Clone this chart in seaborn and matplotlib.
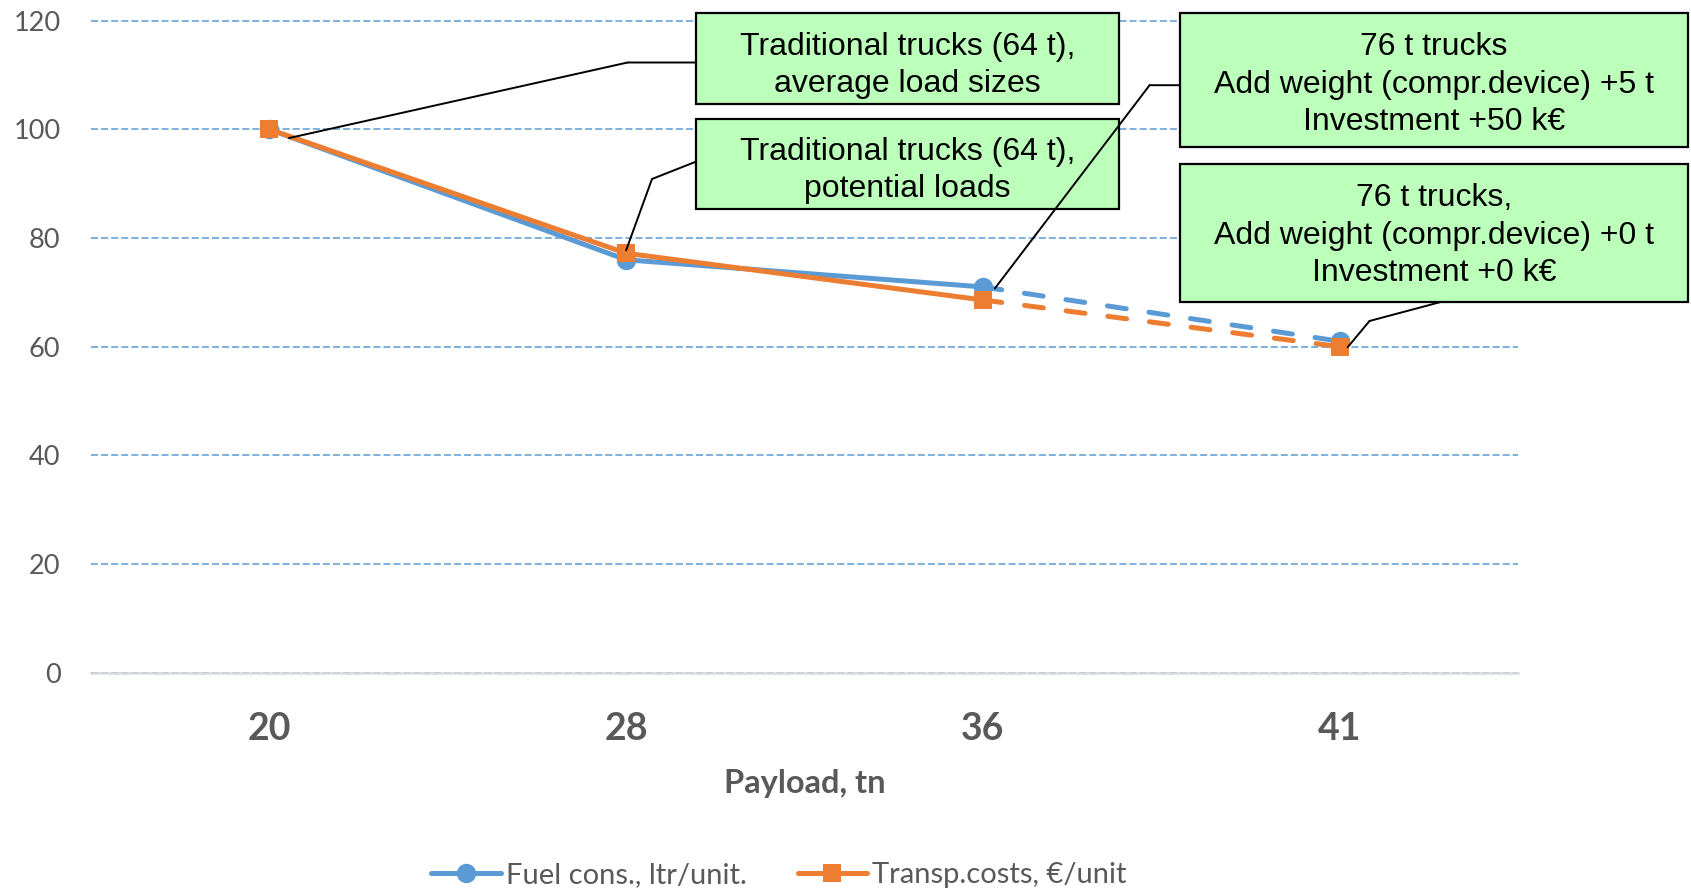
import matplotlib
matplotlib.use("Agg")
import matplotlib.pyplot as plt
from matplotlib.patches import Rectangle
from matplotlib.lines import Line2D
from matplotlib.transforms import offset_copy
import seaborn as sns
import pandas as pd

# ---------------- data ----------------
payload = ["20", "28", "36", "41"]
fuel = [100.0, 76.0, 71.0, 61.0]
transp = [100.0, 77.2, 68.6, 60.0]
series_names = ["Fuel cons., ltr/unit.", "Transp.costs, €/unit"]
y_ticks = [0, 20, 40, 60, 80, 100, 120]
x_label = "Payload, tn"
box_texts = [
    "Traditional trucks (64 t),\naverage load sizes",
    "Traditional trucks (64 t),\npotential loads",
    "76 t trucks\nAdd weight (compr.device) +5 t\nInvestment +50 k€",
    "76 t trucks,\nAdd weight (compr.device) +0 t\nInvestment +0 k€",
]
# index of the data point each box refers to, and which series
box_targets = [(0, 1), (1, 1), (2, 0), (3, 0)]

# ---------------- style ----------------
W, H = 1691, 890
BLUE = "#5B9BD5"
ORANGE = "#ED7D31"
GRAY = "#595959"
BOX_FILL = "#BBFFBB"

sns.set_theme(style="white")
plt.rcParams["font.family"] = ["Lato", "DejaVu Sans"]

fig = plt.figure(figsize=(W / 100, H / 100), dpi=100)
ax_left, ax_right, ax_top, ax_bottom = 91, 1518, 20.7, 672.7
ax = fig.add_axes([ax_left / W, 1 - ax_bottom / H,
                   (ax_right - ax_left) / W, (ax_bottom - ax_top) / H])

df_solid = pd.DataFrame({"Payload": payload[:3], "fuel": fuel[:3], "transp": transp[:3]})
df_dash = pd.DataFrame({"Payload": payload[2:], "fuel": fuel[2:], "transp": transp[2:]})

lw = 3.6
ms_circle = 14
ms_square = 13
dash = (0, (3.8, 4.6))

# blue series
sns.lineplot(data=df_solid, x="Payload", y="fuel", color=BLUE, lw=lw, marker="o",
             markersize=ms_circle, markeredgewidth=0, sort=False, ax=ax, zorder=3)
sns.lineplot(data=df_dash, x="Payload", y="fuel", color=BLUE, lw=lw, linestyle=dash,
             dash_capstyle="round", marker="o", markevery=[1], markersize=ms_circle,
             markeredgewidth=0, sort=False, ax=ax, zorder=3)
# orange series
sns.lineplot(data=df_solid, x="Payload", y="transp", color=ORANGE, lw=lw, marker="s",
             markersize=ms_square, markeredgewidth=0, sort=False, ax=ax, zorder=4)
sns.lineplot(data=df_dash, x="Payload", y="transp", color=ORANGE, lw=lw, linestyle=dash,
             dash_capstyle="round", marker="s", markevery=[1], markersize=ms_square,
             markeredgewidth=0, sort=False, ax=ax, zorder=4)

ax.set_xlim(-0.5, 3.5)
ax.set_ylim(0, 120)
ax.set_yticks(y_ticks)
ax.set_yticklabels([str(v) for v in y_ticks])

# grid
ax.yaxis.grid(True, color=BLUE, linestyle=(0, (4.6, 2.0)), linewidth=1.1)
ax.xaxis.grid(False)
ax.set_axisbelow(True)
for gl in ax.get_ygridlines():
    gl.set_clip_on(False)

for s in ["left", "right", "top"]:
    ax.spines[s].set_visible(False)
ax.spines["bottom"].set_color("#D9D9D9")
ax.spines["bottom"].set_linewidth(1.8)
ax.spines["bottom"].set_zorder(2)

ax.tick_params(axis="y", length=0, pad=22, labelsize=19.5, labelcolor=GRAY)
ax.tick_params(axis="x", length=0, pad=28.5, labelsize=27, labelcolor=GRAY)
for t in ax.get_xticklabels():
    t.set_fontweight("bold")

ax.set_xlabel(x_label, fontsize=23.5, fontweight="bold", color=GRAY, labelpad=16)
ax.set_ylabel("")

# ---------------- legend ----------------
handles = [
    Line2D([], [], color=BLUE, lw=lw, marker="o", markersize=ms_circle, markeredgewidth=0),
    Line2D([], [], color=ORANGE, lw=lw, marker="s", markersize=ms_square, markeredgewidth=0),
]
leg = fig.legend(handles, series_names, loc="center", bbox_to_anchor=(779 / W, 1 - 875 / H),
                 ncol=2, frameon=False, fontsize=21, handlelength=2.37, handletextpad=0.18,
                 columnspacing=1.75, labelcolor=GRAY)

# ---------------- annotation boxes ----------------
def fx(px):
    return px / W


def fy(py):
    return 1 - py / H


# box extents in pixels: (left, top, right, bottom)
boxes = [
    (695.6, 13.0, 1119.4, 103.5),
    (695.6, 118.6, 1119.4, 209.2),
    (1179.8, 13.0, 1687.7, 146.7),
    (1179.8, 164.0, 1687.7, 302.0),
]
text_shift = [7.5, 6.5, 4.9, 2.7]
# leader kink point and attachment point on box (pixels)
kinks = [
    ((627.6, 62.5), (695.6, 62.5)),
    ((652.0, 179.0), (695.6, 161.8)),
    ((1149.6, 85.2), (1179.8, 85.2)),
    ((1369.5, 321.0), (1440.7, 302.0)),
]
# leader start offset from the data point, in pixels (x right, y up)
start_offsets = [(19.6, -8.7), (0.0, 3.0), (12.0, -1.5), (8.0, -6.0)]

for (l, t, r, b), txt, sh in zip(boxes, box_texts, text_shift):
    rect = Rectangle((fx(l), fy(b)), fx(r) - fx(l), fy(t) - fy(b), transform=fig.transFigure,
                     facecolor=BOX_FILL, edgecolor="black", linewidth=1.6, zorder=5,
                     clip_on=False)
    ax.add_patch(rect)
    ax.text(fx((l + r) / 2), fy((t + b) / 2 + sh), txt, ha="center", va="center",
            fontsize=23, family=["Liberation Sans", "DejaVu Sans"], color="black",
            linespacing=1.32, zorder=6, transform=fig.transFigure, clip_on=False)

ax.set_xlim(-0.5, 3.5)
ax.set_ylim(0, 120)

for (idx, ser), (kink, attach), (dx, dy) in zip(box_targets, kinks, start_offsets):
    vals = fuel if ser == 0 else transp
    start_tr = offset_copy(ax.transData, fig=fig, x=dx, y=dy, units="dots")
    ax.annotate("", xy=(idx, vals[idx]), xycoords=start_tr,
                xytext=(fx(kink[0]), fy(kink[1])), textcoords="figure fraction",
                arrowprops=dict(arrowstyle="-", color="black", lw=1.4, shrinkA=0, shrinkB=0),
                zorder=7, annotation_clip=False)
    ax.annotate("", xy=(fx(attach[0]), fy(attach[1])), xycoords="figure fraction",
                xytext=(fx(kink[0]), fy(kink[1])), textcoords="figure fraction",
                arrowprops=dict(arrowstyle="-", color="black", lw=1.4, shrinkA=0, shrinkB=0),
                zorder=7, annotation_clip=False)

fig.savefig("out.png", dpi=100)
